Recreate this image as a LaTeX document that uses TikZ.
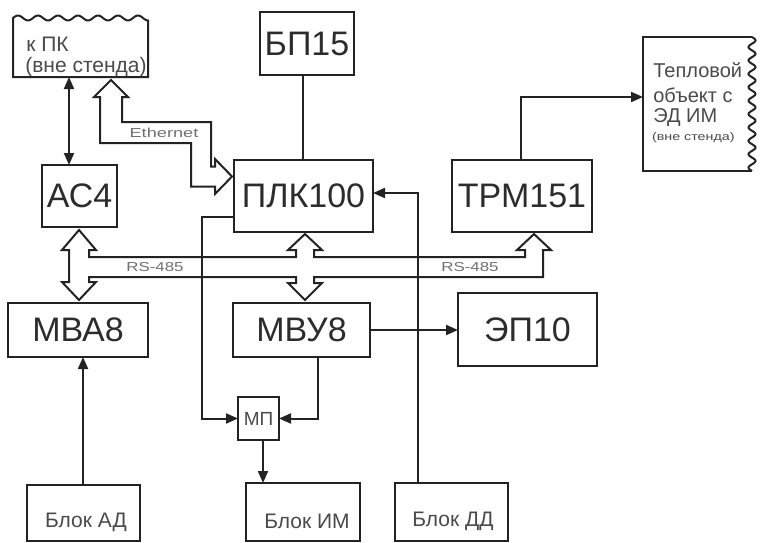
\documentclass[tikz,border=0pt]{standalone}
\usepackage{fontspec}
\setmainfont{Liberation Sans}
\usetikzlibrary{arrows.meta}
\definecolor{ln}{HTML}{232323}
\definecolor{tx}{HTML}{2C2C2C}
\definecolor{sm}{HTML}{4A4A4A}
\definecolor{lb}{HTML}{707070}
\begin{document}
\begin{tikzpicture}[x=1pt,y=-1pt,line width=2pt,
  box/.style={draw=ln,line width=2pt,inner sep=0pt,outer sep=0pt,text=tx},
  area/.style={inner sep=0pt,outer sep=0pt},
  big/.style={font=\fontsize{34}{34}\selectfont},
  small/.style={font=\fontsize{21}{21}\selectfont,text=sm},
  lbl/.style={font=\fontsize{13}{13}\selectfont,text=lb,inner sep=0pt},
  arr/.style={draw=ln,-{Triangle[length=12pt,width=10pt]}},
  darr/.style={draw=ln,{Triangle[length=12pt,width=10pt]}-{Triangle[length=12pt,width=10pt]}},
  wire/.style={draw=ln},
  hollow/.style={draw=ln,line width=2pt,line join=miter}]
\useasboundingbox (0,0) rectangle (760,543);

% boxes
\node[area,minimum width=135pt,minimum height=59pt] (pk) at (80.5,47.5) {};
\node[box,big,minimum width=94pt,minimum height=63pt] (bp) at (307,43.5) {БП15};
\node[box,big,minimum width=75pt,minimum height=62pt] (ac) at (79.5,196) {АС4};
\node[box,big,minimum width=139pt,minimum height=72pt] (plc) at (303.5,196) {ПЛК100};
\node[box,big,minimum width=140pt,minimum height=72pt] (trm) at (522,196) {ТРМ151};
\node[area,minimum width=109pt,minimum height=134pt] (tep) at (697.5,104) {};
\node[box,big,minimum width=140pt,minimum height=54pt] (mva) at (78,330) {МВА8};
\node[box,big,minimum width=137pt,minimum height=54pt] (mvu) at (301.5,330) {МВУ8};
\node[box,big,minimum width=139pt,minimum height=73pt] (ep) at (527.5,329.5) {ЭП10};
\node[box,minimum width=41pt,minimum height=43pt,font=\fontsize{19}{19}\selectfont,text=sm] (mp) at (258.5,418.5) {МП};
\node[box,minimum width=113pt,minimum height=56pt] (bad) at (83.5,513) {};
\node[box,minimum width=114pt,minimum height=58pt] (bim) at (303,512) {};
\node[box,minimum width=113pt,minimum height=58pt] (bdd) at (451.5,512) {};
\node[small] (tbad) at (86,522) {Блок АД};
\node[small] (tbim) at (307,521) {Блок ИМ};
\node[small] (tbdd) at (453,521) {Блок ДД};

% к ПК outline with wavy top
\draw[wire] (13,77) -- (13,18) -- plot[domain=13:148,samples=120] (\x,{18-2.5*sin(18*(\x-13))}) -- (148,77) -- cycle;
\node[small,anchor=west] (pk1) at (22,44) {к ПК};
\node[small,anchor=west] (pk2) at (21,67) {(вне стенда)};

% Тепловой объект outline with wavy right side
\draw[wire] (752,37) -- (643,37) -- (643,171) -- (752,171);
\draw[wire] plot[domain=37:171,samples=160] ({752+3.5*sin(26.87*(\x-37))},\x);
\node[small,anchor=west,font=\fontsize{20}{20}\selectfont] (tp1) at (649,70) {Тепловой};
\node[small,anchor=west,font=\fontsize{20}{20}\selectfont] (tp2) at (649,95) {объект с};
\node[small,anchor=west,font=\fontsize{20}{20}\selectfont] (tp3) at (649,118) {ЭД ИМ};
\node[anchor=west,inner sep=0pt,text=sm,font=\fontsize{11}{11}\selectfont] (tp4) at (651,138) {\scalebox{1.3}[1]{(вне стенда)}};

% Ethernet hollow arrow
\draw[hollow] (100,97) -- (100,143) -- (191,143) -- (191,186.5) -- (215,186.5) -- (215,194)
  -- (232,176.5) -- (215,159) -- (215,166.5) -- (211,166.5) -- (211,122) -- (122,122)
  -- (122,97) -- (128,97) -- (111,80) -- (94,97) -- cycle;
\node[lbl] (eth) at (164,133) {\scalebox{1.4}[1]{Ethernet}};

% RS-485 hollow bus
\draw[hollow] (69,250) -- (62,250) -- (79,230) -- (96,250) -- (89,250) -- (89,257)
  -- (296,257) -- (296,250) -- (288,250) -- (305,234) -- (322,250) -- (314,250) -- (314,257)
  -- (525,257) -- (525,250) -- (517,250) -- (534,234) -- (551,250) -- (543,250) -- (543,277)
  -- (314,277) -- (314,283) -- (322,283) -- (305,300) -- (288,283) -- (296,283) -- (296,277)
  -- (89,277) -- (89,282) -- (96,282) -- (79,300) -- (62,282) -- (69,282) -- cycle;
\node[lbl] (rs1) at (155,267) {\scalebox{1.3}[1]{RS-485}};
\node[lbl] (rs2) at (470,267) {\scalebox{1.3}[1]{RS-485}};

% connectors
\draw[darr] (pk.south -| 69,0) -- (ac.north -| 69,0);
\draw[wire] (bp.south -| 303,0) -- (plc.north -| 303,0);
\draw[arr] (bdd.north -| 418,0) |- (plc.east |- 0,193);
\draw[arr] (plc.west |- 0,217) -- (202,217) |- (mp.west);
\draw[arr] (mvu.south -| 318,0) |- (mp.east);
\draw[arr] (mp.south -| 263,0) -- (bim.north -| 263,0);
\draw[arr] (bad.north -| 83,0) -- (mva.south -| 83,0);
\draw[arr] (mvu.east |- 0,330) -- (ep.west |- 0,330);
\draw[arr] (trm.north -| 521,0) |- (tep.west |- 0,97);
\end{tikzpicture}
\end{document}
